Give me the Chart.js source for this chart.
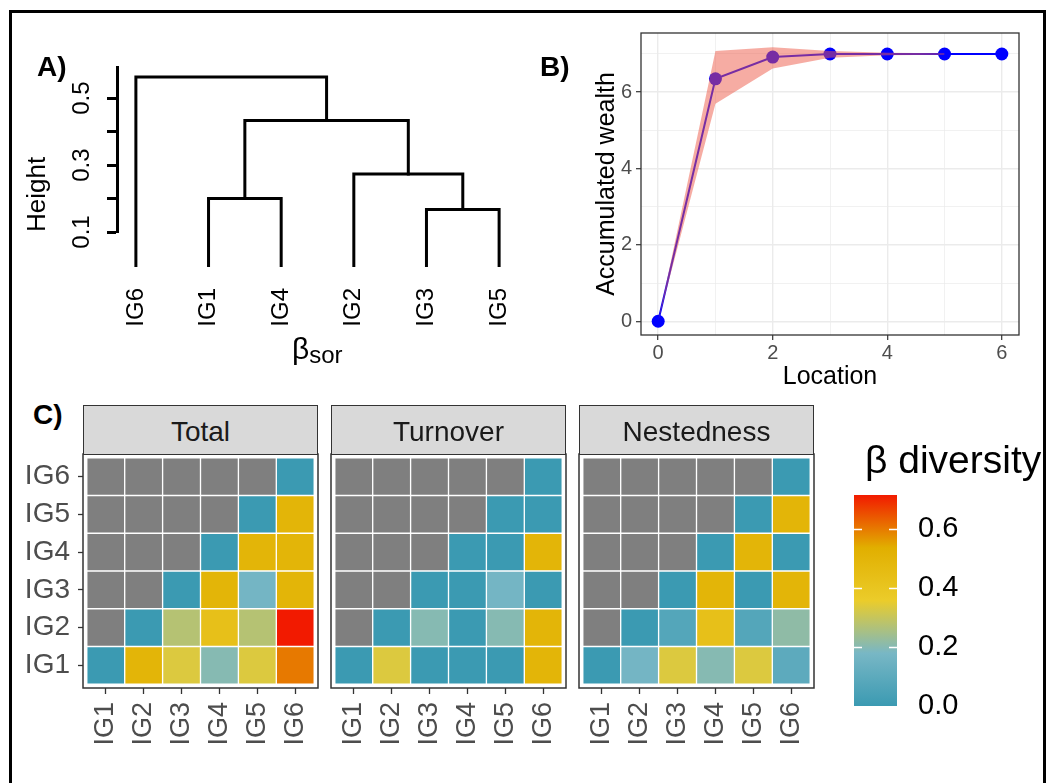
<!DOCTYPE html>
<html>
<head>
<meta charset="utf-8">
<script src="https://cdn.jsdelivr.net/npm/chart.js@4.4.1/dist/chart.umd.min.js"></script>
<style>
  body { margin:0; background:#fff; font-family:"Liberation Sans", Arial, sans-serif; }
  #wrap { position:relative; width:1049px; height:783px; overflow:hidden; background:#fff; }
  #frame { position:absolute; left:9px; top:10px; width:1031px; height:820px; border:3px solid #000; pointer-events:none; z-index:10; }
  canvas { position:absolute; }
  .lbl { position:absolute; font-weight:bold; font-size:28px; line-height:28px; color:#000; }
  .strip { position:absolute; background:#D9D9D9; border:1.5px solid #333; box-sizing:border-box;
           font-size:28px; line-height:52px; height:50px; color:#1A1A1A; text-align:center; }
  .txt { position:absolute; color:#000; white-space:nowrap; }
</style>
</head>
<body>
<div id="wrap">
  <canvas id="cA" width="540" height="390" style="left:0;top:0"></canvas>
  <canvas id="cB" width="509" height="390" style="left:540px;top:0"></canvas>
  <canvas id="cT" width="330" height="343" style="left:0;top:440px"></canvas>
  <canvas id="cU" width="250" height="343" style="left:323px;top:440px"></canvas>
  <canvas id="cN" width="250" height="343" style="left:571px;top:440px"></canvas>
  <canvas id="cL" width="200" height="300" style="left:840px;top:430px"></canvas>

  <div class="lbl" style="left:37px;top:53px">A)</div>
  <div class="lbl" style="left:540px;top:53px">B)</div>
  <div class="lbl" style="left:33px;top:401px">C)</div>
  <div class="txt" style="left:292px;top:334px;font-size:30px;line-height:30px">β<span style="font-size:24px;position:relative;top:4px">sor</span></div>

  <div class="strip" style="left:83px;top:405px;width:235px">Total</div>
  <div class="strip" style="left:331px;top:405px;width:235px">Turnover</div>
  <div class="strip" style="left:579px;top:405px;width:235px">Nestedness</div>
  <div class="txt" style="left:865px;top:440px;font-size:39px;line-height:39px;color:#000">β diversity</div>

  <div id="frame"></div>
</div>
<script>
// ---------------- data ----------------
const categories = ['IG1','IG2','IG3','IG4','IG5','IG6'];

// Panel A: dendrogram (UPGMA on beta_sor)
const leafOrder   = ['IG6','IG1','IG4','IG2','IG3','IG5'];
const mergeLeft   = [-3, -1, -2, 2, -6];   // negative = leaf (IGn), positive = earlier merge
const mergeRight  = [-5, -4,  1, 3,  4];
const mergeHeight = [0.167, 0.200, 0.273, 0.433, 0.563];
const heightTicks  = [0.1, 0.2, 0.3, 0.4, 0.5];
const heightLabels = ['0.1', '', '0.3', '', '0.5'];

// Panel B: accumulation curve
const locations       = [0, 1, 2, 3, 4, 5, 6];
const wealthMean      = [0, 6.35, 6.92, 7.0, 7.0, 7.0, 7.0];
const ribbonLocations = [0, 1, 2, 3, 4, 5];
const wealthUpper     = [0, 7.08, 7.18, 7.08, 7.03, 7.02];
const wealthLower     = [0, 5.70, 6.62, 6.90, 6.97, 6.98];
const locationTicks   = [0, 1, 2, 3, 4, 5, 6];
const wealthTicks     = [0, 1, 2, 3, 4, 5, 6, 7];

// Panel C: beta diversity matrices (rows IG1..IG6, columns IG1..IG6; null = not shown)
const totalBeta = [
  [0,    0.500, 0.333, 0.200, 0.333, 0.600],
  [null, 0,     0.273, 0.429, 0.273, 0.714],
  [null, null,  0,     0.500, 0.167, 0.500],
  [null, null,  null,  0,     0.500, 0.500],
  [null, null,  null,  null,  0,     0.500],
  [null, null,  null,  null,  null,  0]
];
const turnoverBeta = [
  [0,    0.333, 0,     0,     0,     0.500],
  [null, 0,     0.200, 0,     0.200, 0.500],
  [null, null,  0,     0,     0.167, 0],
  [null, null,  null,  0,     0,     0.500],
  [null, null,  null,  null,  0,     0],
  [null, null,  null,  null,  null,  0]
];
const nestednessBeta = [
  [0,    0.167, 0.333, 0.200, 0.333, 0.100],
  [null, 0,     0.073, 0.429, 0.073, 0.214],
  [null, null,  0,     0.500, 0,     0.500],
  [null, null,  null,  0,     0.500, 0],
  [null, null,  null,  null,  0,     0.500],
  [null, null,  null,  null,  null,  0]
];
const legendTicks = [0, 0.2, 0.4, 0.6];
const palette = ['#3B9AB2', '#78B7C5', '#EBCC2A', '#E1AF00', '#F21A00'];
const naColor = '#7F7F7F';

// ---------------- helpers ----------------
Chart.defaults.font.family = '"Liberation Sans", Arial, sans-serif';
Chart.defaults.animation = false;

const allVals = [].concat(...totalBeta, ...turnoverBeta, ...nestednessBeta).filter(v => v !== null);
const betaMax = Math.max(...allVals);
const betaMin = 0;

function hexToRgb(h){ const n = parseInt(h.slice(1),16); return [(n>>16)&255,(n>>8)&255,n&255]; }
const palRgb = palette.map(hexToRgb);
function colorFor(v){
  if (v === null || v === undefined) return naColor;
  let t = (v - betaMin) / (betaMax - betaMin) * (palRgb.length - 1);
  t = Math.max(0, Math.min(palRgb.length - 1, t));
  const i = Math.min(Math.floor(t), palRgb.length - 2), f = t - i;
  const a = palRgb[i], b = palRgb[i+1];
  return 'rgb(' + a.map((c,k)=>Math.round(c + (b[k]-c)*f)).join(',') + ')';
}
const near = (a,b) => Math.abs(a-b) < 1e-6;
const noPad = s => { s.paddingLeft = 0; s.paddingRight = 0; s.paddingTop = 0; s.paddingBottom = 0; };
const fitW = w => s => { noPad(s); s.width = w; };
const fitH = h => s => { noPad(s); s.height = h; };

const panelBorder = {
  id: 'panelBorder',
  afterDatasetsDraw(chart, args, opts){
    if (!opts || !opts.color) return;
    const {ctx, chartArea:a} = chart;
    ctx.save(); ctx.strokeStyle = opts.color; ctx.lineWidth = opts.width || 1;
    ctx.strokeRect(a.left, a.top, a.right - a.left, a.bottom - a.top);
    ctx.restore();
  }
};

// ---------------- Panel A ----------------
(function(){
  const leafX = name => leafOrder.indexOf(name) + 1;
  const nodeX = [], nodeH = [];
  const pos = id => id < 0 ? {x: leafX(categories[-id-1]), h: 0} : {x: nodeX[id-1], h: nodeH[id-1]};
  const sets = mergeHeight.map((h, k) => {
    const a = pos(mergeLeft[k]), b = pos(mergeRight[k]);
    nodeX[k] = (a.x + b.x) / 2; nodeH[k] = h;
    return {
      data: [{x:a.x, y:a.h}, {x:a.x, y:h}, {x:b.x, y:h}, {x:b.x, y:b.h}],
      showLine: true, borderColor: '#000', borderWidth: 3, pointRadius: 0,
      tension: 0, clip: false, borderCapStyle: 'square', borderJoinStyle: 'miter'
    };
  });
  new Chart(document.getElementById('cA'), {
    type: 'scatter',
    data: { datasets: sets },
    options: {
      responsive: false, animation: false,
      layout: { padding: { top: 67, right: 22, left: 0, bottom: 0 } },
      plugins: { legend: { display: false }, tooltip: { enabled: false } },
      scales: {
        x: {
          type: 'linear', min: 0.74, max: 6.26,
          afterBuildTicks: s => { s.ticks = leafOrder.map((_, i) => ({ value: i + 1 })); },
          afterFit: fitH(158),
          border: { display: false },
          grid: { display: false, drawTicks: false },
          ticks: { autoSkip: false, minRotation: 90, maxRotation: 90, padding: 56,
                   color: '#000', font: { size: 24 },
                   callback: v => leafOrder[Math.round(v) - 1] }
        },
        y: {
          type: 'linear', min: 0.1, max: 0.593,
          afterBuildTicks: s => { s.ticks = heightTicks.map(v => ({ value: v })); },
          afterFit: fitW(117),
          border: { display: true, color: '#000', width: 3 },
          grid: { drawOnChartArea: false, drawTicks: true, tickLength: 10, tickColor: '#000', tickWidth: 3 },
          ticks: { autoSkip: false, minRotation: 90, maxRotation: 90, crossAlign: 'center', padding: 8,
                   color: '#000', font: { size: 24 },
                   callback: v => { const i = heightTicks.findIndex(t => near(t, v)); return i >= 0 ? heightLabels[i] : ''; } },
          title: { display: true, text: 'Height', align: 'start', color: '#000',
                   font: { size: 26 }, padding: { top: 22, bottom: 0 } }
        }
      }
    }
  });
})();

// ---------------- Panel B ----------------
(function(){
  const even = ctx => ctx.tick && near(ctx.tick.value % 2, 0);
  new Chart(document.getElementById('cB'), {
    type: 'line',
    data: {
      datasets: [
        { data: ribbonLocations.map((x,i)=>({x, y: wealthUpper[i]})), fill: '+1',
          backgroundColor: 'rgba(238,90,72,0.5)', borderWidth: 0, pointRadius: 0, order: 0, tension: 0 },
        { data: ribbonLocations.map((x,i)=>({x, y: wealthLower[i]})), fill: false,
          borderWidth: 0, pointRadius: 0, order: 0, tension: 0 },
        { data: locations.map((x,i)=>({x, y: wealthMean[i]})), fill: false,
          borderColor: '#0000FF', borderWidth: 2, pointRadius: 6.5, pointBackgroundColor: '#0000FF',
          pointBorderWidth: 0, order: 1, tension: 0 }
      ]
    },
    plugins: [panelBorder],
    options: {
      responsive: false, animation: false,
      layout: { padding: { top: 33, right: 30, left: 0, bottom: 0 } },
      plugins: { legend: { display: false }, tooltip: { enabled: false },
                 panelBorder: { color: '#333333', width: 1.3 } },
      scales: {
        x: {
          type: 'linear', min: -0.3, max: 6.3,
          afterBuildTicks: s => { s.ticks = locationTicks.map(v => ({ value: v })); },
          afterFit: fitH(55),
          border: { display: false },
          grid: { color: '#EBEBEB', lineWidth: ctx => even(ctx) ? 1.4 : 0.7,
                  tickColor: ctx => even(ctx) ? '#333333' : 'rgba(0,0,0,0)', tickLength: 5, tickWidth: 1.2 },
          ticks: { autoSkip: false, maxRotation: 0, padding: 1, color: '#4D4D4D', font: { size: 20 },
                   callback: v => near(v % 2, 0) ? String(v) : '' },
          title: { display: true, text: 'Location', color: '#000', font: { size: 25, lineHeight: 1 }, padding: 0 }
        },
        y: {
          type: 'linear', min: -0.36, max: 7.55,
          afterBuildTicks: s => { s.ticks = wealthTicks.map(v => ({ value: v })); },
          afterFit: fitW(101),
          border: { display: false },
          grid: { color: '#EBEBEB', lineWidth: ctx => even(ctx) ? 1.4 : 0.7,
                  tickColor: ctx => even(ctx) ? '#333333' : 'rgba(0,0,0,0)', tickLength: 5, tickWidth: 1.2 },
          ticks: { autoSkip: false, padding: 4, color: '#4D4D4D', font: { size: 20 },
                   callback: v => near(v % 2, 0) ? String(v) : '' },
          title: { display: true, text: 'Accumulated wealth', color: '#000', font: { size: 25 },
                   padding: { top: 52, bottom: 0 } }
        }
      }
    }
  });
})();

// ---------------- Panel C ----------------
function heatmap(id, matrix, showY, padLeft, padRight){
  const datasets = categories.map((rowName, r) => ({
    data: categories.map((colName, c) => ({ x: c + 1, y: [r + 0.5, r + 1.5] })),
    backgroundColor: categories.map((colName, c) => colorFor(matrix[r][c])),
    borderColor: '#FFFFFF', borderWidth: 1, borderSkipped: false,
    barPercentage: 1, categoryPercentage: 1, grouped: false
  }));
  const yScale = {
    type: 'linear', min: 0.4, max: 6.6, display: showY,
    afterBuildTicks: s => { s.ticks = categories.map((_, i) => ({ value: i + 1 })); },
    afterFit: showY ? fitW(83) : noPad,
    border: { display: false },
    grid: { offset: false, drawOnChartArea: false, drawTicks: true, tickLength: 5, tickColor: '#333333', tickWidth: 1.3 },
    ticks: { autoSkip: false, padding: 8, color: '#4D4D4D', font: { size: 28 },
             callback: v => categories[Math.round(v) - 1] }
  };
  new Chart(document.getElementById(id), {
    type: 'bar',
    data: { datasets },
    plugins: [panelBorder],
    options: {
      responsive: false, animation: false,
      layout: { padding: { top: 14, right: padRight, left: padLeft, bottom: 0 } },
      plugins: { legend: { display: false }, tooltip: { enabled: false },
                 panelBorder: { color: '#333333', width: 1.5 } },
      scales: {
        x: {
          type: 'linear', min: 0.4, max: 6.6, offset: false,
          afterBuildTicks: s => { s.ticks = categories.map((_, i) => ({ value: i + 1 })); },
          afterFit: fitH(95),
          border: { display: false },
          grid: { offset: false, drawOnChartArea: false, drawTicks: true, tickLength: 6, tickColor: '#333333', tickWidth: 1.3 },
          ticks: { autoSkip: false, minRotation: 90, maxRotation: 90, padding: 8,
                   color: '#4D4D4D', font: { size: 27 },
                   callback: v => categories[Math.round(v) - 1] }
        },
        y: yScale
      }
    }
  });
}
heatmap('cT', totalBeta, true, 0, 12);
heatmap('cU', turnoverBeta, false, 8, 7);
heatmap('cN', nestednessBeta, false, 8, 7);

// ---------------- Legend (colour bar) ----------------
(function(){
  const barTicks = {
    id: 'barTicks',
    afterDatasetsDraw(chart){
      const {ctx, chartArea:a, scales:{y}} = chart;
      ctx.save(); ctx.strokeStyle = '#FFFFFF'; ctx.lineWidth = 1.5;
      legendTicks.forEach(v => {
        if (v <= betaMin || v >= betaMax) return;
        const py = Math.round(y.getPixelForValue(v)) + 0.5;
        ctx.beginPath();
        ctx.moveTo(a.left, py); ctx.lineTo(a.left + 8, py);
        ctx.moveTo(a.right - 8, py); ctx.lineTo(a.right, py);
        ctx.stroke();
      });
      ctx.restore();
    }
  };
  new Chart(document.getElementById('cL'), {
    type: 'bar',
    data: {
      labels: [''],
      datasets: [{
        data: [[betaMin, betaMax]],
        barPercentage: 1, categoryPercentage: 1, borderWidth: 0,
        backgroundColor: ctx => {
          const c = ctx.chart, a = c.chartArea;
          if (!a) return palette[0];
          const y = c.scales.y;
          const g = c.ctx.createLinearGradient(0, y.getPixelForValue(betaMin), 0, y.getPixelForValue(betaMax));
          palette.forEach((col, i) => g.addColorStop(i / (palette.length - 1), col));
          return g;
        }
      }]
    },
    plugins: [barTicks],
    options: {
      responsive: false, animation: false,
      layout: { padding: { top: 65, right: 0, left: 14, bottom: 24 } },
      plugins: { legend: { display: false }, tooltip: { enabled: false } },
      scales: {
        x: { display: false, afterFit: fitH(0) },
        y: {
          position: 'right', min: betaMin, max: betaMax,
          afterBuildTicks: s => { s.ticks = legendTicks.map(v => ({ value: v })); },
          afterFit: fitW(143),
          border: { display: false },
          grid: { display: false, drawTicks: false },
          ticks: { autoSkip: false, padding: 21, color: '#000', font: { size: 29 },
                   callback: v => v.toFixed(1) }
        }
      }
    }
  });
})();
</script>
</body>
</html>
